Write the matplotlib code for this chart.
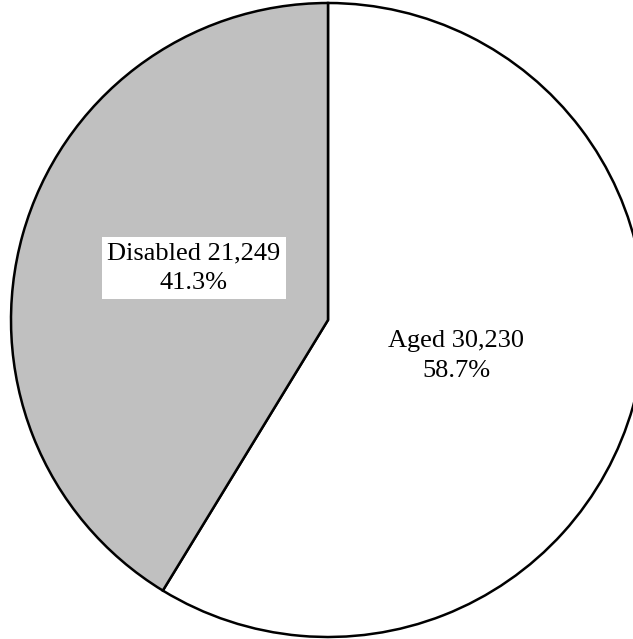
import matplotlib.pyplot as plt

labels = ['Aged', 'Disabled']
counts = [30230, 21249]
colors = ['#ffffff', '#c0c0c0']

plt.rcParams['font.family'] = ['Liberation Serif', 'DejaVu Serif']

W, H = 633, 639
fig = plt.figure(figsize=(W/100, H/100), dpi=100)
ax = fig.add_axes([0, 0, 1, 1])

cx, cy, r = 328, H - 320, 317
wedges, _ = ax.pie(counts, colors=colors, startangle=90, counterclock=False,
                   center=(cx, cy), radius=r, frame=True,
                   wedgeprops=dict(edgecolor='black', linewidth=1.8))
ax.set_xlim(0, W)
ax.set_ylim(0, H)
ax.set_aspect('equal')
ax.axis('off')

total = sum(counts)
pct = [100.0 * c / total for c in counts]

ax.text(456, H - 356, '%s %s\n%.1f%%' % (labels[0], format(counts[0], ','), pct[0]),
        ha='center', va='center', fontsize=19, linespacing=1.45)
ax.text(194, H - 268, '%s %s\n%.1f%%' % (labels[1], format(counts[1], ','), pct[1]),
        ha='center', va='center', fontsize=19, linespacing=1.45,
        bbox=dict(boxstyle='square,pad=0.2', facecolor='white', edgecolor='none'))

fig.savefig('out.png', dpi=100)
